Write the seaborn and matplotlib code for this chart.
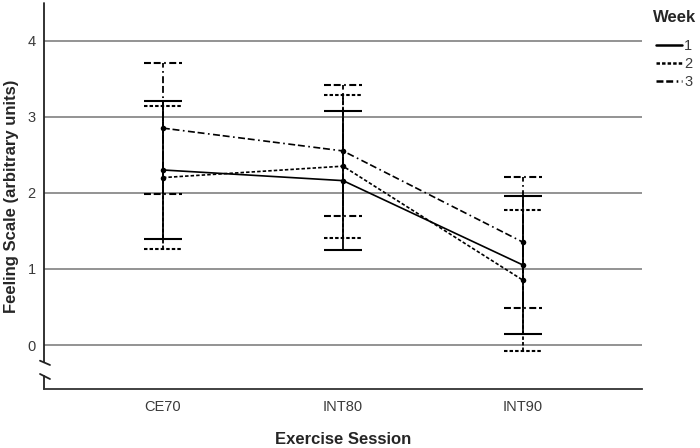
#%% importing modules
import numpy as np
import pandas as pd
import matplotlib
matplotlib.use('Agg')
import matplotlib.pyplot as plt
from matplotlib.lines import Line2D
import seaborn as sns

#%% data
sessions = ['CE70', 'INT80', 'INT90']
weeks = ['1', '2', '3']
week1_mean = [2.30, 2.16, 1.05]
week2_mean = [2.20, 2.35, 0.85]
week3_mean = [2.85, 2.55, 1.35]
week1_err = [0.91, 0.91, 0.91]
week2_err = [0.94, 0.94, 0.93]
week3_err = [0.86, 0.86, 0.86]

means = [week1_mean, week2_mean, week3_mean]
errs = [week1_err, week2_err, week3_err]

#%% styles
sns.set_style('white')
plt.rcParams['font.family'] = ['Liberation Sans', 'DejaVu Sans']
plt.rcParams['lines.scale_dashes'] = False

dsh = {'1': '', '2': (2.5, 1.5), '3': (5, 2, 5, 2.5, 1.2, 2.5)}
lsty = {'1': '-', '2': (0, (2.5, 1.5)), '3': (0, (5, 2, 5, 2.5, 1.2, 2.5))}
tick_col = '#3a3a3a'

# long table for seaborn
rows = []
for k, w in enumerate(weeks):
    for i, s in enumerate(sessions):
        rows.append({'pos': i, 'session': s, 'week': w,
                     'mean': means[k][i], 'err': errs[k][i]})
df = pd.DataFrame(rows)

#%% plotting
fig = plt.figure(figsize=(7, 4.48), dpi=100)
ax = fig.add_axes([44/700, 1-389/448, 598/700, 386/448])

# error bars (drawn week 3 first so week 1 sits on top)
cw = 0.105
for w in ['3', '2', '1']:
    d = df[df['week'] == w]
    lo = d['mean'] - d['err']
    hi = d['mean'] + d['err']
    ax.vlines(d['pos'], lo, hi, colors='black', linestyles=lsty[w], lw=1.3, zorder=3)
    ax.hlines(lo, d['pos']-cw, d['pos']+cw, colors='black', linestyles=lsty[w], lw=1.5, zorder=3)
    ax.hlines(hi, d['pos']-cw, d['pos']+cw, colors='black', linestyles=lsty[w], lw=1.5, zorder=3)

sns.lineplot(data=df, x='pos', y='mean', hue='week', style='week',
             palette=['black']*3, dashes=dsh, markers={'1': 'o', '2': 'o', '3': 'o'},
             markersize=4, markeredgewidth=0, lw=1.2, legend=False, ax=ax, zorder=4)

# axes
ax.set_xlim(-0.66, 2.66)
ax.set_ylim(-0.578, 4.494)
ax.set_xticks(range(len(sessions)))
ax.set_xticklabels(sessions)
ax.set_yticks([0, 1, 2, 3, 4])
ax.tick_params(axis='both', length=0, labelsize=10.5, labelcolor=tick_col)
ax.tick_params(axis='x', pad=8)
ax.tick_params(axis='y', pad=6)
ax.yaxis.grid(True, color='#8a8a8a', lw=1.3)
ax.xaxis.grid(False)
ax.set_axisbelow(True)

for sp in ['top', 'right', 'left']:
    ax.spines[sp].set_visible(False)
ax.spines['bottom'].set_color('#333333')
ax.spines['bottom'].set_linewidth(1.3)

# left axis with break marks
kw = dict(transform=ax.transAxes, color='#222222', lw=1.3, clip_on=False)
ax.plot([0, 0], [1.0, 0.070], **kw)
ax.plot([0, 0], [0.034, 0.0], **kw)
ax.plot([-0.0067, 0.010], [0.0733, 0.0622], **kw)
ax.plot([-0.0067, 0.010], [0.0389, 0.0259], **kw)

ax.set_xlabel('Exercise Session', fontsize=12, fontweight='bold', labelpad=13)
ax.set_ylabel('Feeling Scale (arbitrary units)', fontsize=12, fontweight='bold')
ax.yaxis.set_label_coords(-0.042, 0.5)

# legend
fig.text(653/700, 1-18/448, 'Week', fontsize=12, fontweight='bold', ha='left', va='center')
hdl = [Line2D([], [], color='black', lw=1.8, linestyle=lsty[w]) for w in weeks]
leg = fig.legend(hdl, weeks, loc='upper left',
                 bbox_to_anchor=(650/700, 1-33/448), frameon=False,
                 fontsize=10.5, handlelength=1.8, handletextpad=0.15,
                 labelspacing=0.27, borderaxespad=0)
for t in leg.get_texts():
    t.set_color(tick_col)

fig.savefig('out.png', dpi=100)
plt.close()
